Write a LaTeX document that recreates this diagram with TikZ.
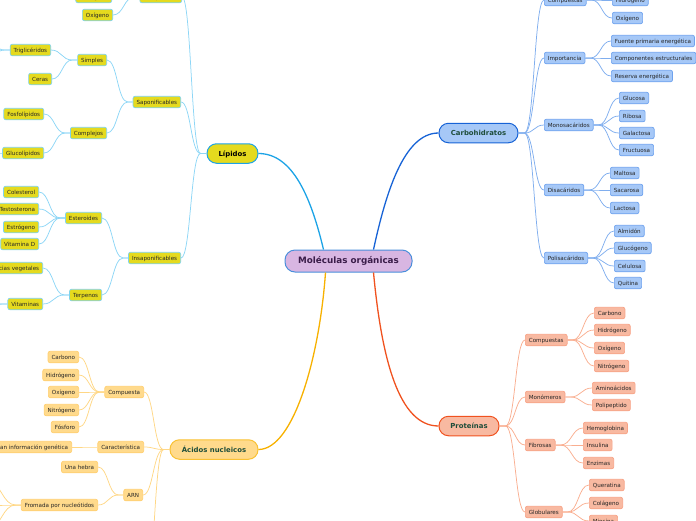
\documentclass[tikz,border=0pt]{standalone}
\usepackage{fontspec}
\setmainfont{DejaVu Sans}
\usetikzlibrary{calc}
\definecolor{lipf}{HTML}{E5DA1E}
\definecolor{lipb}{HTML}{7FD3EE}
\definecolor{lipl}{HTML}{8DD6F6}
\definecolor{lipm}{HTML}{1CA3E6}
\definecolor{carf}{HTML}{A6C8F7}
\definecolor{carb}{HTML}{6EA2EE}
\definecolor{carl}{HTML}{80AEEE}
\definecolor{carm}{HTML}{1763D6}
\definecolor{prof}{HTML}{F8B9A1}
\definecolor{prob}{HTML}{F7A285}
\definecolor{prol}{HTML}{F9AE90}
\definecolor{prom}{HTML}{F0521F}
\definecolor{acif}{HTML}{FFDA8C}
\definecolor{acib}{HTML}{FFCF70}
\definecolor{acil}{HTML}{FFD785}
\definecolor{acim}{HTML}{F7B100}
\definecolor{cenf}{HTML}{D8B6E2}
\definecolor{cenb}{HTML}{4A8FDB}
\definecolor{centxt}{HTML}{3B1D4A}
\definecolor{l1txt}{HTML}{1E4D3A}
\newcommand\mmedge[4]{\draw[#1] let \p1=(#2), \p2=(#3) in (\p1) -- ({\x1+(#4)},\y1) .. controls ({(\x1+(#4)+\x2)/2},\y1) and ({(\x1+(#4)+\x2)/2},\y2) .. (\p2);}
\begin{document}
\begin{tikzpicture}[x=1pt,y=-1pt,
 sn/.style={rounded corners=2pt, inner xsep=3.5pt, inner ysep=0pt, minimum height=11.5pt, text height=0.75em, text depth=0.22em, font=\fontsize{5.6}{6}\selectfont, text=black!85, line width=0.7pt},
 lipn/.style={sn, draw=lipb, fill=lipf},
 carn/.style={sn, draw=carb, fill=carf},
 pron/.style={sn, draw=prob, fill=prof},
 acin/.style={sn, draw=acib, fill=acif},
 lone/.style={rounded corners=9.5pt, minimum height=19.5pt, inner sep=0pt, text height=0.75em, text depth=0.22em, font=\fontsize{6.9}{8}\selectfont\bfseries, line width=1pt, text=l1txt},
 lipe/.style={draw=lipl, line width=0.75pt},
 care/.style={draw=carl, line width=0.75pt},
 proe/.style={draw=prol, line width=0.75pt},
 acie/.style={draw=acil, line width=0.75pt},
 mainedge/.style={line width=1.3pt}]
\useasboundingbox (0,0) rectangle (696,520);
\clip (0,0) rectangle (696,520);

% center
\node[rounded corners=10pt, minimum width=127pt, minimum height=22pt, inner sep=0pt, fill=cenf, draw=cenb, line width=1pt, font=\fontsize{8.8}{10}\selectfont\bfseries, text=centxt] (ctr) at (348.5,261) {Moléculas orgánicas};

% level 1
\node[lone, minimum width=51pt, fill=lipf, draw=lipm, text=black] (lip) at (232.5,153.5) {Lípidos};
\node[lone, minimum width=79pt, fill=carf, draw=carm] (car) at (478.5,133) {Carbohidratos};
\node[lone, minimum width=88pt, fill=acif, draw=acim!80] (aci) at (214,449.5) {Ácidos nucleicos};
\node[lone, minimum width=60pt, fill=prof, draw=prom] (pro) at (469,426) {Proteínas};

\draw[mainedge, draw=lipm] ([xshift=-25pt]ctr.north) .. controls +(-12,-50) and +(35,0) .. (lip.east);
\draw[mainedge, draw=carm] ([xshift=25pt]ctr.north) .. controls +(12,-55) and +(-35,0) .. (car.west);
\draw[mainedge, draw=acim] ([xshift=-23pt]ctr.south) .. controls +(-6,85) and +(35,0) .. (aci.east);
\draw[mainedge, draw=prom] ([xshift=25pt]ctr.south) .. controls +(8,85) and +(-40,0) .. (pro.west);

% ---------- Lipidos ----------
\node[lipn, anchor=east] (lcm) at (182,-3) {Compuestos};
\node[lipn, anchor=east] (lH) at (112,-3) {Hidrógeno};
\node[lipn, anchor=east] (lO) at (113,15) {Oxígeno};
\node[lipn, anchor=east] (sap) at (181,102) {Saponificables};
\node[lipn, anchor=east] (sim) at (107,60) {Simples};
\node[lipn, anchor=east] (tri) at (51,50) {Triglicéridos};
\node[lipn, anchor=east] (cer) at (52,79) {Ceras};
\node[lipn, anchor=east] (cmj) at (107,133) {Complejos};
\node[lipn, anchor=east] (fos) at (44,114) {Fosfolípidos};
\node[lipn, anchor=east] (glu) at (44,153) {Glucolípidos};
\node[lipn, anchor=east] (ins) at (181,258) {Insaponificables};
\node[lipn, anchor=east] (est) at (102,218) {Esteroides};
\node[lipn, anchor=east] (col) at (39,192) {Colesterol};
\node[lipn, anchor=east] (tes) at (39,209) {Testosterona};
\node[lipn, anchor=east] (esg) at (39,227) {Estrógeno};
\node[lipn, anchor=east] (vtd) at (39,244) {Vitamina D};
\node[lipn, anchor=east] (ter) at (102,295) {Terpenos};
\node[lipn, anchor=east] (esv) at (43,268) {Esencias vegetales};
\node[lipn, anchor=east] (vtm) at (43,304) {Vitaminas};
\coordinate (tria) at (-14,42);
\coordinate (trib) at (-14,58);
\coordinate (glua) at (-14,153);
\coordinate (vtma) at (-14,300);
\coordinate (vtmb) at (-14,310);

\foreach \c in {lcm,sap,ins} {\mmedge{lipe}{lip.west}{\c.east}{-6pt}}
\foreach \c in {lH,lO} {\mmedge{lipe}{lcm.west}{\c.east}{-5pt}}
\foreach \c in {sim,cmj} {\mmedge{lipe}{sap.west}{\c.east}{-5pt}}
\foreach \c in {tri,cer} {\mmedge{lipe}{sim.west}{\c.east}{-5pt}}
\foreach \c in {fos,glu} {\mmedge{lipe}{cmj.west}{\c.east}{-5pt}}
\foreach \c in {est,ter} {\mmedge{lipe}{ins.west}{\c.east}{-5pt}}
\foreach \c in {col,tes,esg,vtd} {\mmedge{lipe}{est.west}{\c.east}{-5pt}}
\foreach \c in {esv,vtm} {\mmedge{lipe}{ter.west}{\c.east}{-5pt}}
\foreach \c in {tria,trib} {\mmedge{lipe}{tri.west}{\c}{-5pt}}
\mmedge{lipe}{glu.west}{glua}{-5pt}
\foreach \c in {vtma,vtmb} {\mmedge{lipe}{vtm.west}{\c}{-5pt}}

% ---------- Carbohidratos ----------
\node[carn, anchor=west] (ccm) at (544,0) {Compuestas};
\node[carn, anchor=west] (cH) at (612,0) {Hidrógeno};
\node[carn, anchor=west] (cO) at (612,18) {Oxígeno};
\node[carn, anchor=west] (imp) at (544,58) {Importancia};
\node[carn, anchor=west] (fue) at (611,41) {Fuente primaria energética};
\node[carn, anchor=west] (cpe) at (611,58) {Componentes estructurales};
\node[carn, anchor=west] (res) at (611,76) {Reserva energética};
\node[carn, anchor=west] (mon) at (544,125) {Monosacáridos};
\node[carn, anchor=west] (gls) at (619,98) {Glucosa};
\node[carn, anchor=west] (rib) at (619,116) {Ribosa};
\node[carn, anchor=west] (gal) at (619,133) {Galactosa};
\node[carn, anchor=west] (fru) at (619,150) {Fructuosa};
\node[carn, anchor=west] (dis) at (544,190) {Disacáridos};
\node[carn, anchor=west] (mal) at (610,173) {Maltosa};
\node[carn, anchor=west] (sac) at (610,190) {Sacarosa};
\node[carn, anchor=west] (lac) at (610,208) {Lactosa};
\node[carn, anchor=west] (pol) at (544,258) {Polisacáridos};
\node[carn, anchor=west] (alm) at (614,231) {Almidón};
\node[carn, anchor=west] (glg) at (614,248) {Glucógeno};
\node[carn, anchor=west] (cel) at (614,266) {Celulosa};
\node[carn, anchor=west] (qui) at (614,283) {Quitina};

\foreach \c in {ccm,imp,mon,dis,pol} {\mmedge{care}{car.east}{\c.west}{6pt}}
\foreach \c in {cH,cO} {\mmedge{care}{ccm.east}{\c.west}{5pt}}
\foreach \c in {fue,cpe,res} {\mmedge{care}{imp.east}{\c.west}{5pt}}
\foreach \c in {gls,rib,gal,fru} {\mmedge{care}{mon.east}{\c.west}{5pt}}
\foreach \c in {mal,sac,lac} {\mmedge{care}{dis.east}{\c.west}{5pt}}
\foreach \c in {alm,glg,cel,qui} {\mmedge{care}{pol.east}{\c.west}{5pt}}

% ---------- Proteinas ----------
\node[pron, anchor=west] (pcm) at (525,340) {Compuestas};
\node[pron, anchor=west] (pC) at (594,313) {Carbono};
\node[pron, anchor=west] (pH) at (594,330) {Hidrógeno};
\node[pron, anchor=west] (pO) at (594,348) {Oxígeno};
\node[pron, anchor=west] (pN) at (594,366) {Nitrógeno};
\node[pron, anchor=west] (pmo) at (525,397) {Monómeros};
\node[pron, anchor=west] (ami) at (592,388) {Aminoácidos};
\node[pron, anchor=west] (ppt) at (592,405) {Polipeptido};
\node[pron, anchor=west] (pfi) at (525,445) {Fibrosas};
\node[pron, anchor=west] (hem) at (583,428) {Hemoglobina};
\node[pron, anchor=west] (isl) at (583,445) {Insulina};
\node[pron, anchor=west] (enz) at (583,463) {Enzimas};
\node[pron, anchor=west] (pgl) at (525,512) {Globulares};
\node[pron, anchor=west] (que) at (589,485) {Queratina};
\node[pron, anchor=west] (clg) at (589,503) {Colágeno};
\node[pron, anchor=west] (mio) at (589,521) {Miosina};

\foreach \c in {pcm,pmo,pfi,pgl} {\mmedge{proe}{pro.east}{\c.west}{6pt}}
\foreach \c in {pC,pH,pO,pN} {\mmedge{proe}{pcm.east}{\c.west}{5pt}}
\foreach \c in {ami,ppt} {\mmedge{proe}{pmo.east}{\c.west}{5pt}}
\foreach \c in {hem,isl,enz} {\mmedge{proe}{pfi.east}{\c.west}{5pt}}
\foreach \c in {que,clg,mio} {\mmedge{proe}{pgl.east}{\c.west}{5pt}}

% ---------- Acidos nucleicos ----------
\node[acin, anchor=east] (acm) at (144,392) {Compuesta};
\node[acin, anchor=east] (aC) at (79,357) {Carbono};
\node[acin, anchor=east] (aH) at (79,375) {Hidrógeno};
\node[acin, anchor=east] (aO) at (79,392) {Oxígeno};
\node[acin, anchor=east] (aN) at (79,410) {Nitrógeno};
\node[acin, anchor=east] (aP) at (79,427) {Fósforo};
\node[acin, anchor=east] (cct) at (144,447) {Característica};
\node[acin, anchor=east] (alc) at (72,447) {Almacenan información genética};
\node[acin, anchor=east] (arn) at (143,495) {ARN};
\node[acin, anchor=east] (heb) at (98,467) {Una hebra};
\node[acin, anchor=east] (fro) at (98,505) {Fromada por nucleótidos};
\coordinate (adn) at (144,610);
\coordinate (froa) at (-12,482);
\coordinate (frob) at (-12,505);
\coordinate (froc) at (-12,528);

\foreach \c in {acm,cct,arn,adn} {\mmedge{acie}{aci.west}{\c.east}{-6pt}}
\foreach \c in {aC,aH,aO,aN,aP} {\mmedge{acie}{acm.west}{\c.east}{-5pt}}
\mmedge{acie}{cct.west}{alc.east}{-5pt}
\foreach \c in {heb,fro} {\mmedge{acie}{arn.west}{\c.east}{-5pt}}
\foreach \c in {froa,frob,froc} {\mmedge{acie}{fro.west}{\c}{-5pt}}
\end{tikzpicture}
\end{document}
